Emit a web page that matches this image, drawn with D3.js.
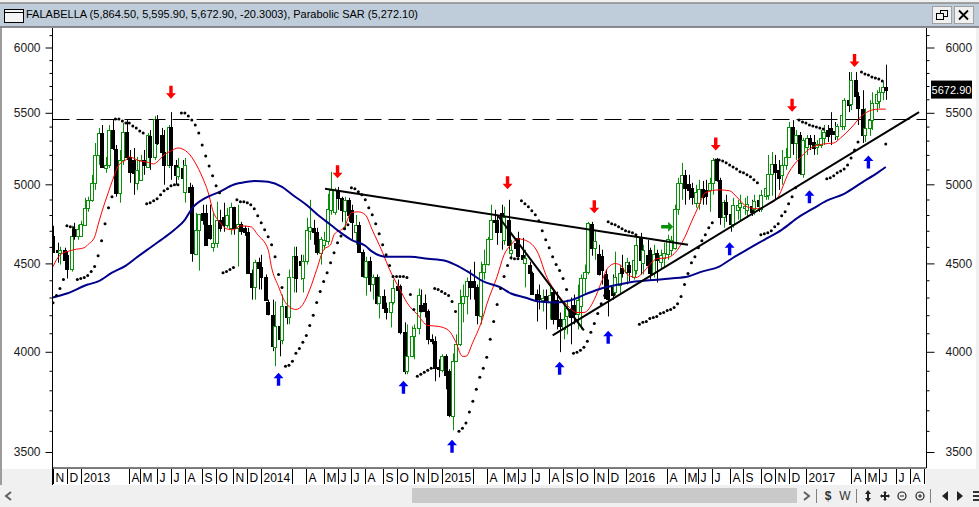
<!DOCTYPE html>
<html><head><meta charset="utf-8">
<script src="https://cdn.jsdelivr.net/npm/d3@7/dist/d3.min.js"></script>
<style>html,body{margin:0;padding:0;background:#f0f0f0;overflow:hidden}svg{display:block}text{font-family:"Liberation Sans",Arial,sans-serif}</style>
</head><body><div id="c"></div>
<script>
const titleText="FALABELLA (5,864.50, 5,595.90, 5,672.90, -20.3003), Parabolic SAR (5,272.10)";
const lastPrice=5672.90;
const resistance=5454;
const majorTicks=[3500,4000,4500,5000,5500,6000];
const minorTicks=[3600,3700,3800,3900,4100,4200,4300,4400,4600,4700,4800,4900,5100,5200,5300,5400,5600,5700,5800,5900,6100];
const monthLabels=["N","D","2013","A","M","J","J","A","S","O","N","D","2014","","A","M","J","J","A","S","O","N","D","2015","","A","M","J","J","A","S","O","N","D","2016","A","M","J","J","A","S","O","N","D","2017","A","M","J","J","A","S"];
const monthBars=[0,4,8,22,25,30,34,38,43,47,52,56,60,69,73,78,82,86,90,95,99,104,108,112,121,125,130,134,138,143,147,151,156,160,165,177,182,186,190,195,199,204,208,212,217,230,234,238,243,247,251];
const opens=[4668,4583,4565,4583,4552,4469,4712,4668,4668,4738,
4846,4898,5010,5200,5354,5110,5131,5375,5241,4944,
5165,5361,5186,5165,5010,5030,5165,5117,5333,5186,
5454,5340,5220,5131,5397,5131,5057,5110,4950,4983,
4983,4558,4706,4814,4814,4738,4601,4626,4769,4788,
4738,4719,4853,4719,4744,4719,4694,4445,4363,4510,
4481,4422,4277,4199,4024,4138,4062,4254,4187,4422,
4546,4516,4416,4516,4700,4719,4694,4565,4613,4638,
4833,4820,4963,4911,4827,4898,4833,4694,4738,4571,
4422,4516,4381,4422,4271,4306,4238,4215,4277,4369,
4369,4105,3898,3976,4083,4127,4260,4271,4221,4067,
4056,3918,3903,3976,3898,3671,3950,4040,4271,4306,
4393,4393,4363,4193,4451,4499,4650,4769,4769,4814,
4644,4769,4565,4626,4656,4552,4504,4493,4445,4323,
4317,4288,4311,4277,4334,4288,4176,4121,4193,4232,
4260,4204,4249,4416,4451,4744,4595,4558,4546,4434,
4346,4358,4329,4375,4475,4451,4493,4422,4463,4656,
4504,4552,4583,4445,4565,4510,4534,4558,4583,4595,
4840,5010,5064,5003,4977,4879,4879,4970,4963,4963,
5010,5165,5030,4788,4885,4807,4744,4833,4853,4846,
4833,4859,4840,4898,4840,4924,4931,5071,5138,5097,
5064,5131,5186,5397,5283,5340,5071,5255,5319,5290,
5255,5269,5319,5375,5390,5368,5333,5404,5404,5593,
5563,5745,5623,5527,5340,5390,5447,5571,5586,5653,5692];
const closes=[4571,4571,4583,4522,4469,4668,4668,4712,4744,4846,
4898,5010,5200,5354,5117,5131,5375,5248,4944,5165,
5361,5186,5084,5077,5097,5165,5131,5340,5186,5454,
5283,5220,5131,5397,5131,5064,5117,5044,5131,4950,
4565,4706,4807,4769,4613,4656,4626,4769,4719,4738,
4801,4853,4719,4744,4700,4694,4445,4363,4510,4475,
4422,4283,4204,4030,4138,4067,4254,4187,4422,4546,
4416,4493,4516,4706,4725,4694,4571,4650,4644,4840,
4963,4963,4911,4833,4898,4801,4756,4738,4571,4428,
4516,4381,4422,4271,4306,4238,4215,4277,4352,4346,
4105,3898,3976,4083,4127,4317,4221,4221,4067,4056,
3913,3908,3976,3877,3676,3950,4040,4271,4311,4393,
4363,4363,4199,4451,4499,4650,4769,4756,4694,4694,
4788,4613,4583,4595,4546,4528,4534,4445,4323,4294,
4294,4300,4288,4317,4176,4176,4138,4176,4243,4187,
4204,4288,4416,4451,4750,4595,4638,4434,4463,4300,
4294,4317,4422,4445,4445,4510,4451,4522,4613,4522,
4583,4493,4445,4558,4522,4552,4565,4650,4644,4840,
5010,5064,4977,4963,4918,4950,4970,4918,4924,5010,
5165,5030,4788,4885,4807,4744,4866,4866,4879,4859,
4872,4820,4892,4859,4931,4977,5071,5138,5084,5044,
5131,5186,5397,5283,5340,5077,5304,5319,5276,5248,
5276,5319,5361,5333,5347,5347,5404,5483,5593,5556,
5745,5623,5534,5340,5390,5447,5571,5638,5653,5692,5672.9];
const highs=[4731,4626,4601,4595,4571,4731,4750,4738,4763,4911,
4918,5064,5283,5390,5411,5186,5411,5447,5269,5234,
5426,5447,5234,5248,5186,5200,5234,5354,5375,5476,
5483,5390,5375,5411,5505,5165,5179,5165,5179,5010,
4997,4814,4807,4866,4866,4866,4814,4885,4833,4879,
4846,4879,4853,4866,4756,4731,4719,4463,4522,4534,
4552,4434,4288,4288,4277,4232,4317,4311,4463,4601,
4601,4552,4552,4782,4898,4769,4719,4662,4694,4937,
5084,4977,4983,4918,4918,4911,4866,4801,4756,4583,
4540,4540,4434,4434,4422,4346,4271,4346,4404,4404,
4375,4160,4149,4138,4149,4352,4346,4317,4232,4094,
4083,3960,3987,3987,3908,3992,4094,4346,4375,4416,
4463,4510,4375,4510,4583,4662,4866,4833,4801,4866,
4853,4898,4644,4644,4694,4656,4583,4510,4451,4346,
4375,4346,4346,4375,4346,4334,4215,4260,4288,4300,
4317,4375,4434,4493,4756,4756,4706,4613,4583,4463,
4404,4434,4571,4493,4552,4534,4510,4595,4675,4687,
4613,4644,4595,4613,4583,4583,4626,4675,4668,4866,
5044,5145,5097,5064,5010,4997,5030,5023,5030,5044,
5179,5179,5044,4898,4931,4820,4911,4898,4931,4911,
4924,4898,4931,4931,4963,5030,5200,5220,5200,5165,
5234,5248,5433,5447,5375,5361,5319,5340,5340,5340,
5304,5375,5411,5411,5505,5433,5418,5556,5608,5807,
5807,5807,5653,5668,5534,5593,5653,5668,5692,5730,5864.5];
const lows=[4565,4504,4493,4504,4410,4451,4644,4644,4662,4731,
4820,4885,4963,5131,5110,5077,5110,5234,4918,4879,
5131,5165,5010,4931,4963,5023,5064,5110,5097,5165,
5269,5131,4997,5110,5030,4997,5030,5030,4879,4918,
4510,4552,4457,4738,4613,4644,4571,4595,4694,4694,
4719,4675,4675,4481,4675,4668,4440,4288,4288,4346,
4346,4283,4199,4003,3924,3976,4040,4149,4149,4329,
4329,4404,4329,4493,4644,4613,4552,4493,4583,4613,
4801,4801,4833,4756,4706,4756,4644,4613,4565,4416,
4311,4334,4288,4260,4182,4221,4176,4132,4260,4176,
4094,3882,3882,3971,3960,4094,4215,4187,4040,4040,
3846,3866,3892,3805,3666,3603,3945,4030,4160,4204,
4288,4288,4149,4149,4404,4487,4644,4706,4613,4583,
4613,4583,4522,4552,4534,4510,4358,4404,4317,4165,
4232,4221,4121,4176,4149,4121,3998,4067,4094,4040,
4149,4121,4121,4317,4434,4546,4522,4428,4375,4288,
4193,4288,4311,4317,4416,4375,4393,4404,4434,4434,
4434,4463,4404,4416,4387,4463,4475,4522,4546,4583,
4801,4898,4866,4898,4866,4846,4833,4866,4866,4820,
4931,5017,4738,4719,4756,4694,4719,4769,4756,4801,
4782,4794,4801,4820,4820,4898,4898,4924,4898,4963,
4997,5097,5179,5200,5165,5064,5044,5200,5234,5200,
5200,5248,5269,5290,5269,5304,5304,5375,5375,5505,
5520,5563,5411,5283,5290,5333,5375,5505,5534,5593,5595.9];
const sar=[4270,4311,4352,4404,4731,4725,4719,4404,4410,4416,
4428,4451,4481,4546,4638,4744,4846,4918,5454,5454,
5440,5426,5426,5404,5390,5368,5354,4872,4879,4892,
4905,4931,4957,4970,4990,4997,4997,5498,5498,5476,
5447,5411,5354,5269,5193,5124,5057,4990,4944,4445,
4451,4463,4475,4898,4885,4885,4879,4866,4840,4795,
4750,4706,4662,4613,4540,4434,4358,3924,3929,3950,
3992,4018,4051,4088,4143,4199,4271,4334,4393,4445,
4504,4565,4626,4668,4712,4738,4977,4970,4950,4931,
4898,4846,4801,4744,4681,4613,4552,4487,4422,4422,
4422,4422,4416,4317,4232,3872,3882,3892,3903,3913,
4352,4346,4334,4323,4311,4277,4221,3598,3613,3638,
3691,3745,3805,3866,3913,3971,4067,4165,4260,4352,
4422,4487,4534,4528,4528,4892,4872,4853,4827,4801,
4763,4700,4644,4595,4540,4493,4457,4410,4346,null,
3992,3998,4008,4024,4056,4105,4154,4210,4265,4311,
4756,4744,4738,4725,4712,4700,4694,4687,4675,4149,
4160,4165,4182,4187,4193,4210,4215,4226,4232,4243,
4265,4306,4375,4440,4504,4540,4595,4638,4675,4719,
4750,5165,5165,5158,5145,5131,5117,5104,5084,5077,
5064,5050,5030,5010,4675,4681,4687,4700,4725,4744,
4795,4820,4872,4918,4977,5447,5433,5426,5411,5404,
5397,5390,5383,5037,5044,5057,5077,5090,5104,5131,
5179,5234,5290,5807,5792,5784,5769,5761,5753,5738,5276];
const redBars=[0,1,3,4,6,9,10,12,13,14,16,17,19,21,22,25,27,29,30,32,34,36,39,41,43,45,46,48,50,52,54,57,59,62,63,65,67,70,72,74,76,78,80,81,84,86,88,90,92,95,97,100,102,105,108,111,114,116,118,119,121,124,125,128,130,132,134,137,140,142,145,148,151,153,156,158,160,162,164,165,168,170,172,174,177,179,182,184,186,188,192,195,197,200,203,206,209,212,215,218,222,225,227,230,233,236,238,240];
const redVals=[4481,4522,4565,4571,4583,4595,4613,4662,4738,4814,4950,5017,5131,5165,5186,5158,5151,5138,5151,5200,5227,5248,5213,5145,5050,4924,4833,4756,4712,4706,4731,4725,4675,4583,4475,4363,4271,4232,4260,4346,4463,4583,4613,4675,4725,4814,4820,4801,4706,4565,4463,4346,4271,4204,4143,4138,4116,4056,3976,3976,4051,4193,4260,4422,4552,4613,4650,4632,4552,4434,4329,4260,4215,4215,4288,4387,4475,4499,4481,4445,4416,4445,4493,4528,4534,4558,4656,4756,4853,4944,4963,4957,4918,4853,4840,4866,4918,5077,5172,5241,5276,5283,5319,5390,5476,5520,5527,5527];
const blueBars=[0,4,10,13,17,21,24,28,32,35,38,40,44,48,52,56,58,62,66,69,73,77,80,83,86,90,92,96,103,108,113,117,120,124,129,132,136,140,145,149,154,158,163,166,171,175,178,183,187,192,196,200,205,210,215,219,223,228,233,238,240];
const blueVals=[4300,4323,4375,4393,4445,4487,4534,4595,4656,4706,4769,4840,4911,4950,4997,5017,5023,5017,4983,4931,4866,4788,4738,4687,4644,4607,4571,4540,4540,4528,4516,4481,4445,4393,4358,4323,4300,4277,4271,4283,4323,4352,4375,4387,4398,4404,4410,4422,4451,4481,4534,4583,4644,4706,4788,4840,4892,4937,5010,5084,5117];
const trendBars=[[78.4,183],[128.2,153],[144,249.6]];
const trendVals=[[4970,4613],[4795,4116],[4088,5505]];
const sellBars=[34,82,131,156,191,213,231];
const sellVals=[5653,5084,5010,4853,5276,5556,5896];
const buyBars=[65,101,115,146,160,195,218,235];
const buyVals=[3856,3815,3527,3913,4078,4589,4918,5151];
const entryBars=[177];
const entryVals=[4725];

const W=979,H=507,L=52.5,R=926.5,T=28,B=468;
const svg=d3.select("#c").append("svg").attr("width",W).attr("height",H);
const x=d3.scaleLinear().domain([0,252]).range([53,927.4]);
const y=d3.scaleLog().domain([3500,6000]).range([452,47.5]);

// window chrome
svg.append("rect").attr("x",0).attr("y",0).attr("width",W).attr("height",H).attr("fill","#f0f0f0");
svg.append("rect").attr("x",0).attr("y",3).attr("width",W).attr("height",24).attr("fill","#bfcddb");
svg.append("line").attr("x1",0).attr("x2",W).attr("y1",3).attr("y2",3).attr("stroke","#8a8a8a").attr("stroke-width",1.5);
svg.append("line").attr("x1",0).attr("x2",W).attr("y1",27).attr("y2",27).attr("stroke","#6e6e6e").attr("stroke-width",1.5);
svg.append("rect").attr("x",L).attr("y",T).attr("width",R-L).attr("height",B-T).attr("fill","#fff");
svg.append("rect").attr("x",2).attr("y",T).attr("width",L-2).attr("height",B-T+1).attr("fill","#fff");
svg.append("rect").attr("x",R).attr("y",T).attr("width",W-R-3).attr("height",B-T+1).attr("fill","#fff");
svg.append("line").attr("x1",1).attr("x2",1).attr("y1",27).attr("y2",485).attr("stroke","#808080").attr("stroke-width",1.5);
svg.append("rect").attr("x",53).attr("y",469).attr("width",873).attr("height",16).attr("fill","#fff");

// icon and title
svg.append("rect").attr("x",4.5).attr("y",9.5).attr("width",19).attr("height",13).attr("fill","#f4f4f4").attr("stroke","#000");
svg.append("line").attr("x1",5).attr("x2",23).attr("y1",12.5).attr("y2",12.5).attr("stroke","#000");
svg.append("text").attr("x",26).attr("y",17.5).attr("font-size",11).attr("fill","#000").text(titleText);

// window buttons
[[932,"r"],[954,"x"]].forEach(([bx,k])=>{
  svg.append("rect").attr("x",bx+.5).attr("y",6.5).attr("width",19).attr("height",17).attr("fill","#f0f0f0").attr("stroke","#a0a0a0");
  if(k==="x") svg.append("path").attr("d",`M${bx+5} 10.5L${bx+14} 19.5M${bx+14} 10.5L${bx+5} 19.5`).attr("stroke","#000").attr("stroke-width",1.8).attr("fill","none");
  else {
    svg.append("rect").attr("x",bx+8.5).attr("y",10.5).attr("width",7).attr("height",6).attr("fill","none").attr("stroke","#000");
    svg.append("rect").attr("x",bx+4.5).attr("y",13.5).attr("width",7).attr("height",6).attr("fill","#f0f0f0").attr("stroke","#000");
  }
});

// y axes built by d3
function yAxis(maker,ticks,size,g){return g.call(maker(y).tickValues(ticks).tickSize(size).tickFormat(d3.format("d")));}
const axL=svg.append("g").attr("transform",`translate(${L},0)`);
yAxis(d3.axisLeft,minorTicks,3,axL).call(g=>g.selectAll("text").remove());
const axLM=svg.append("g").attr("transform",`translate(${L},0)`);
yAxis(d3.axisLeft,majorTicks,7,axLM).call(g=>g.selectAll("text").attr("font-size",12).attr("dx",-2).attr("fill","#1a1a1a"));
const axR=svg.append("g").attr("transform",`translate(${R},0)`);
yAxis(d3.axisRight,minorTicks,3,axR).call(g=>g.selectAll("text").remove());
const axRM=svg.append("g").attr("transform",`translate(${R},0)`);
yAxis(d3.axisRight,majorTicks,8,axRM).call(g=>g.selectAll("text").attr("font-size",12).attr("dx",8).attr("fill","#1a1a1a"));
svg.selectAll(".domain").remove();
svg.append("line").attr("x1",L).attr("x2",L).attr("y1",T).attr("y2",485).attr("stroke","#000");
svg.append("line").attr("x1",R).attr("x2",R).attr("y1",T).attr("y2",B).attr("stroke","#000");
svg.append("line").attr("x1",L).attr("x2",R).attr("y1",B).attr("y2",B).attr("stroke","#000");

// month axis (clipped at the plot's right edge, as the last label is in the reference)
svg.append("clipPath").attr("id","mc").append("rect").attr("x",53).attr("y",469).attr("width",873).attr("height",16);
const mg=svg.append("g").attr("clip-path","url(#mc)");
monthBars.forEach((b,i)=>{
  const px=Math.round(x(b))+.5;
  mg.append("line").attr("x1",px).attr("x2",px).attr("y1",469).attr("y2",484).attr("stroke","#000");
  mg.append("text").attr("x",px+2).attr("y",482).attr("font-size",12).attr("fill","#000").text(monthLabels[i]);
});

// plot
svg.append("clipPath").attr("id","pc").append("rect").attr("x",L).attr("y",T).attr("width",R-L).attr("height",B-T);
const p=svg.append("g").attr("clip-path","url(#pc)");
p.append("line").attr("x1",L).attr("x2",R).attr("y1",Math.round(y(resistance))+.5).attr("y2",Math.round(y(resistance))+.5)
 .attr("stroke","#000").attr("stroke-width",1).attr("stroke-dasharray","17,7");

const GREEN="#0a8f0a";
const bars=d3.range(opens.length);
p.append("g").selectAll("g").data(bars).join("g").each(function(i){
  const g=d3.select(this),up=closes[i]>=opens[i],c=up?GREEN:"#000";
  const cx=Math.round(x(i)+(i%2?1.2:.3))+.5;
  g.append("line").attr("x1",cx).attr("x2",cx).attr("y1",y(highs[i])).attr("y2",y(lows[i])).attr("stroke",c).attr("stroke-width",1);
  const t=Math.round(y(Math.max(opens[i],closes[i])))+.5,b=Math.round(y(Math.min(opens[i],closes[i])))+.5;
  g.append("rect").attr("x",cx-2).attr("y",t).attr("width",3).attr("height",Math.max(b-t,1))
   .attr("fill",up?"#fff":"#000").attr("stroke",c).attr("stroke-width",1);
});

p.append("path").datum(redBars.map((b,i)=>[b,redVals[i]]))
 .attr("d",d3.line().x(d=>x(d[0])).y(d=>y(d[1])).curve(d3.curveMonotoneX))
 .attr("fill","none").attr("stroke","#f00").attr("stroke-width",1);
p.append("path").datum(blueBars.map((b,i)=>[b,blueVals[i]]))
 .attr("d",d3.line().x(d=>x(d[0])).y(d=>y(d[1])).curve(d3.curveMonotoneX))
 .attr("fill","none").attr("stroke","#00008b").attr("stroke-width",2);

p.append("g").selectAll("circle").data(sar.map((v,i)=>[i,v]).filter(d=>d[1]!==null)).join("circle")
 .attr("cx",d=>x(d[0])).attr("cy",d=>y(d[1])).attr("r",1.5).attr("fill","#000");

trendBars.forEach((tb,i)=>{
  p.append("line").attr("x1",x(tb[0])).attr("x2",x(tb[1])).attr("y1",y(trendVals[i][0])).attr("y2",y(trendVals[i][1]))
   .attr("stroke","#000").attr("stroke-width",2);
});

function arrow(cx,cy,dir,fill){
  const pts=dir==="down"?[[-1.7,-6.5],[1.7,-6.5],[1.7,1],[5,1],[0,6.5],[-5,1],[-1.7,1]]
    :dir==="up"?[[-1.7,6.5],[1.7,6.5],[1.7,-1],[5,-1],[0,-6.5],[-5,-1],[-1.7,-1]]
    :[[-6,-1.7],[1,-1.7],[1,-5],[6,0],[1,5],[1,1.7],[-6,1.7]];
  p.append("polygon").attr("points",pts.map(q=>[cx+q[0],cy+q[1]].join(",")).join(" ")).attr("fill",fill);
}
sellBars.forEach((b,i)=>arrow(x(b),y(sellVals[i]),"down","#f00"));
buyBars.forEach((b,i)=>arrow(x(b),y(buyVals[i]),"up","#0000f0"));
entryBars.forEach((b,i)=>arrow(x(b),y(entryVals[i]),"right","#0a8f0a"));

// last price tag
svg.append("rect").attr("x",931).attr("y",y(lastPrice)-9).attr("width",41).attr("height",18).attr("fill","#000");
svg.append("text").attr("x",951.5).attr("y",y(lastPrice)+4).attr("text-anchor","middle").attr("font-size",11).attr("fill","#fff").text(d3.format(".2f")(lastPrice));

// scroll bar and toolbar
svg.append("rect").attr("x",412).attr("y",488).attr("width",385).attr("height",15).attr("fill","#c9c9c9");
svg.append("path").attr("d","M11 492L6 496L11 500").attr("fill","none").attr("stroke","#606060").attr("stroke-width",2);
svg.append("path").attr("d","M804 492L809 496L804 500").attr("fill","none").attr("stroke","#606060").attr("stroke-width",2);
[816.5,856.5,930.5].forEach(v=>svg.append("line").attr("x1",v).attr("x2",v).attr("y1",489).attr("y2",503).attr("stroke","#808080"));
svg.append("text").attr("x",828).attr("y",500).attr("text-anchor","middle").attr("font-size",12).attr("font-weight","bold").attr("fill","#333").text("$");
svg.append("text").attr("x",845).attr("y",500).attr("text-anchor","middle").attr("font-size",12).attr("fill","#333").text("W");
svg.append("path").attr("d","M868 490l3 4h-2v4h2l-3 4l-3-4h2v-4h-2z").attr("fill","#222");
svg.append("path").attr("d","M885 491l2 2h-1v2h2v-1l2 2l-2 2v-1h-2v2h1l-2 2l-2-2h1v-2h-2v1l-2-2l2-2v1h2v-2h-1z").attr("fill","#222");
[[902,"m"],[920,"p"]].forEach(([cx,k])=>{
  svg.append("circle").attr("cx",cx).attr("cy",496).attr("r",4).attr("fill","none").attr("stroke","#222").attr("stroke-width",1.2);
  svg.append("path").attr("d",k==="m"?`M${cx-2} 496h4`:`M${cx-2} 496h4M${cx} 494v4`).attr("stroke","#222");
});
svg.append("path").attr("d","M948 491v10l-6-5z").attr("fill","#222");
svg.append("path").attr("d","M957 491v10l6-5z").attr("fill","#222");
svg.append("path").attr("d","M973 491h6v2h-6zM973 495h6v2h-6zM973 499h6v2h-6z").attr("fill","#333");
</script></body></html>
